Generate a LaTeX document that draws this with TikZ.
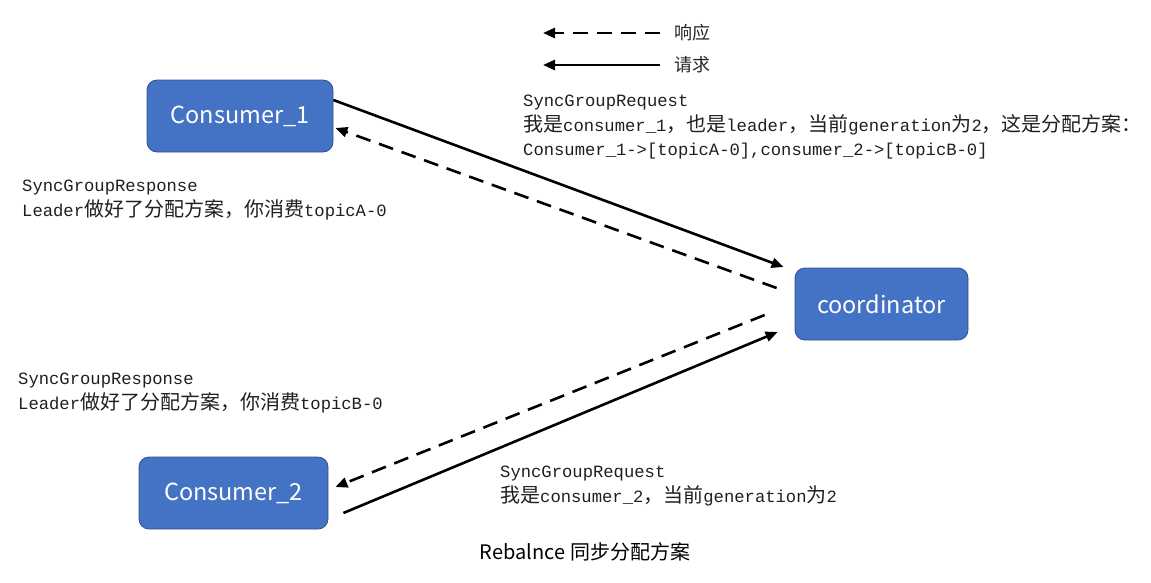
\documentclass[tikz,border=0pt]{standalone}
\usepackage{fontspec}
\setmonofont{Liberation Mono}
\newfontfamily\cjk{Noto Sans CJK SC}
\usetikzlibrary{arrows.meta}
\newcommand{\zh}[1]{{\cjk\fontsize{20}{24.5}\selectfont #1}}
\definecolor{boxfill}{HTML}{4472C4}
\definecolor{boxline}{HTML}{2F528F}
\tikzset{
  box/.style={draw=boxline, line width=0.8pt, fill=boxfill, rounded corners=10pt, text=white,
    font=\cjk\fontsize{23.5}{26}\selectfont, inner sep=0pt},
  lbl/.style={align=left, anchor=north west, inner sep=0pt, text=black!88,
    font=\ttfamily\fontsize{17.2}{24.5}\selectfont},
  req/.style={line width=2.6pt, -{Triangle[length=12pt,width=10pt]}},
  resp/.style={line width=2.6pt, dash pattern=on 15pt off 9pt, -{Triangle[length=12pt,width=10pt]}},
  leg/.style={anchor=west, inner sep=0pt, text=black!85, font=\cjk\fontsize{18}{20}\selectfont}
}
\begin{document}
\begin{tikzpicture}[x=1pt,y=-1pt]
\useasboundingbox (0,0) rectangle (1151,582);
% nodes
\node[box, minimum width=186pt, minimum height=72pt] (c1) at (240,116) {\raisebox{-2pt}{Consumer\_1}};
\node[box, minimum width=173pt, minimum height=72pt] (co) at (881.5,304) {coordinator};
\node[box, minimum width=189pt, minimum height=72pt] (c2) at (233.5,493) {\raisebox{-2pt}{Consumer\_2}};
% legend
\node[leg] (lresp) at (674,33) {响应};
\node[leg] (lreq) at (674,65) {请求};
\coordinate (lrespEnd) at (543,33);
\coordinate (lreqEnd) at (543,65);
\draw[resp] ([xshift=-14pt]lresp.west) -- (lrespEnd);
\draw[req] ([xshift=-14pt]lreq.west) -- (lreqEnd);
% labels
\node[lbl] (t1) at (523,95) {SyncGroupRequest\\
\zh{我是}consumer\_1\zh{，也是}leader\zh{，当前}generation\zh{为}2\zh{，这是分配方案：}\\
Consumer\_1->[topicA-0],consumer\_2->[topicB-0]};
\node[lbl] (t2) at (22,180) {SyncGroupResponse\\
Leader\zh{做好了分配方案，你消费}topicA-0};
\node[lbl] (t3) at (18,373) {SyncGroupResponse\\
Leader\zh{做好了分配方案，你消费}topicB-0};
\node[lbl] (t4) at (500,466) {SyncGroupRequest\\
\zh{我是}consumer\_2\zh{，当前}generation\zh{为}2};
\node[inner sep=0pt, font=\cjk\fontsize{20}{22}\selectfont, text=black] (title) at (585,552) {Rebalnce 同步分配方案};
% connectors
\draw[req] ([yshift=16pt]c1.east) -- ([xshift=-11pt,yshift=37pt]co.west);
\draw[resp] ([xshift=-18pt,yshift=16pt]co.west) -- ([xshift=2pt,yshift=-12pt]c1.east);
\draw[resp] ([xshift=-30pt,yshift=-11pt]co.west) -- ([xshift=7pt,yshift=6pt]c2.east);
\draw[req] ([xshift=15pt,yshift=-20pt]c2.east) -- ([xshift=-17pt,yshift=-28pt]co.west);
\end{tikzpicture}
\end{document}
